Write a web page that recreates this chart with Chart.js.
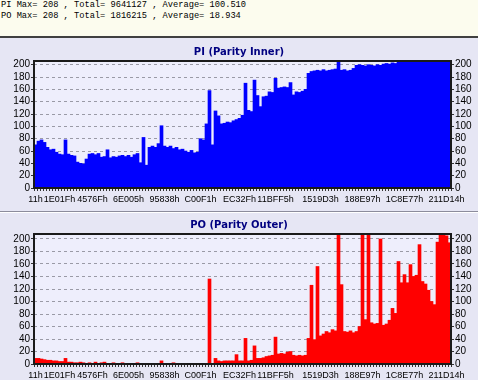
<!DOCTYPE html>
<html>
<head>
<meta charset="utf-8">
<script src="https://cdn.jsdelivr.net/npm/chart.js@4.4.0/dist/chart.umd.min.js"></script>
<style>
  html, body { margin: 0; padding: 0; }
  body { width: 478px; height: 380px; background: #e6e6f4; position: relative; overflow: hidden; }
  #stats {
    position: absolute; left: 0; top: 0; width: 478px; height: 36px;
    box-sizing: content-box; padding: 0;
    background: #fcfcee; border-bottom: 2px solid #404040;
    font-family: 'Liberation Mono', monospace; font-size: 8.7px; line-height: 10.5px;
    color: #000; white-space: nowrap;
  }
  #stats div { padding-left: 1px; height: 10.5px; }
  .panel { position: absolute; left: 0; width: 478px; }
  #panel-pi { top: 38px; height: 173px; }
  #sep { position: absolute; left: 0; top: 211px; width: 478px; height: 0;
         border-top: 1px solid #8c8c9c; border-bottom: 1px solid #ffffff; }
  #panel-po { top: 213px; height: 167px; }
  canvas { display: block; }
</style>
</head>
<body>
<div id="stats"><div>PI Max= 208 , Total= 9641127 , Average= 100.510</div><div>PO Max= 208 , Total= 1816215 , Average= 18.934</div></div>
<div class="panel" id="panel-pi"><canvas id="piChart" width="478" height="173"></canvas></div>
<div id="sep"></div>
<div class="panel" id="panel-po"><canvas id="poChart" width="478" height="167"></canvas></div>

<script>
// address labels shown under the x axis, and the bin each one sits on
const xTickLabels = ['11h', '1E01Fh', '4576Fh', '6E005h', '95838h', 'C00F1h',
                     'EC32Fh', '11BFF5h', '1519D3h', '188E97h', '1C8E77h', '211D14h'];
const xTickBins = [0, 8, 19, 31, 43, 55, 68, 80, 95, 109, 123, 137];

const yTicks = [0, 20, 40, 60, 80, 100, 120, 140, 160, 180, 200];

// PI (Parity Inner) per bin
const piValues = [
  70, 76, 78, 74, 66, 62, 63, 58, 55, 54,
  78, 55, 53, 52, 42, 40, 39, 47, 55, 56,
  54, 56, 50, 51, 62, 49, 51, 50, 52, 53,
  51, 53, 50, 54, 56, 41, 82, 37, 66, 68,
  66, 72, 101, 68, 66, 68, 64, 66, 62, 63,
  60, 58, 61, 57, 58, 80, 78, 104, 158, 70,
  125, 117, 104, 105, 107, 106, 109, 111, 113, 118,
  170, 126, 124, 175, 150, 132, 148, 149, 156, 155,
  178, 162, 163, 164, 163, 171, 151, 156, 155, 157,
  160, 186, 189, 190, 191, 190, 192, 190, 191, 192,
  193, 205, 191, 192, 190, 191, 194, 199, 200, 199,
  198, 200, 199, 198, 200, 199, 201, 202, 201, 203,
  202, 205, 206, 207, 208, 208, 208, 208, 208, 208,
  208, 208, 208, 204, 208, 208, 208, 208, 208
];

// PO (Parity Outer) per bin
const poValues = [
  9, 9, 8, 7, 6, 6, 5, 5, 4, 4,
  9, 3, 3, 2, 2, 3, 2, 1, 2, 1,
  3, 1, 2, 3, 1, 1, 2, 1, 1, 2,
  1, 1, 1, 1, 2, 1, 1, 1, 1, 1,
  1, 1, 5, 1, 1, 1, 2, 1, 1, 1,
  1, 1, 1, 1, 1, 1, 1, 1, 136, 1,
  9, 5, 4, 5, 5, 5, 5, 15, 5, 5,
  41, 5, 6, 29, 9, 9, 10, 12, 13, 14,
  43, 16, 17, 16, 19, 20, 14, 13, 14, 13,
  14, 41, 126, 39, 156, 45, 48, 52, 50, 55,
  53, 207, 127, 52, 51, 53, 50, 52, 60, 206,
  71, 206, 66, 64, 65, 200, 62, 64, 70, 89,
  81, 164, 130, 143, 130, 159, 140, 142, 191, 132,
  128, 118, 100, 95, 195, 207, 206, 205, 194
];

const binLabels = piValues.map(function(v, i) {
    const k = xTickBins.indexOf(i);
    return k >= 0 ? xTickLabels[k] : '';
});

// plot background and the dark frame round it
const framePlugin = {
    id: 'frame',
    beforeDraw(chart) {
        const a = chart.chartArea;
        const ctx = chart.ctx;
        ctx.save();
        ctx.fillStyle = '#eeeefc';
        ctx.fillRect(a.left, a.top, a.right - a.left, a.bottom - a.top);
        ctx.restore();
    },
    afterDraw(chart) {
        const a = chart.chartArea;
        const ctx = chart.ctx;
        ctx.save();
        ctx.strokeStyle = '#1a1a1a';
        ctx.lineWidth = 2;
        ctx.strokeRect(a.left, a.top, a.right - a.left, a.bottom - a.top);
        ctx.restore();
    }
};

function makeChart(id, title, values, color, yMax, titleTop, titleBottom, xAxisHeight) {
    const tickFont = { family: 'Liberation Sans', size: 10 };
    const yAxis = function(position, width, grid) {
        return {
            type: 'linear',
            position: position,
            min: 0,
            max: yMax,
            afterBuildTicks: function(scale) {
                scale.ticks = yTicks.map(function(v) { return { value: v }; });
            },
            grid: Object.assign({ tickLength: 3, tickColor: '#333', tickBorderDash: [] }, grid),
            border: { display: false, dash: [3, 3] },
            ticks: { autoSkip: false, padding: 1, color: '#000', font: tickFont },
            afterFit: function(scale) { scale.width = width; }
        };
    };

    return new Chart(document.getElementById(id), {
        type: 'bar',
        data: {
            labels: binLabels,
            datasets: [{
                data: values,
                backgroundColor: color,
                borderWidth: 0,
                barPercentage: 1,
                categoryPercentage: 1
            }]
        },
        options: {
            responsive: false,
            animation: false,
            layout: { padding: 0 },
            plugins: {
                legend: { display: false },
                tooltip: { enabled: false },
                title: {
                    display: true,
                    text: title,
                    color: '#000080',
                    font: { family: 'DejaVu Sans', size: 10, weight: 'bold', lineHeight: 1.2 },
                    padding: { top: titleTop, bottom: titleBottom }
                }
            },
            scales: {
                x: {
                    offset: true,
                    grid: { drawOnChartArea: false, tickLength: 3, tickColor: '#333', offset: true },
                    border: { display: false },
                    ticks: {
                        autoSkip: false, maxRotation: 0, minRotation: 0, padding: 3,
                        color: '#000', font: { family: 'Liberation Sans', size: 9 }
                    },
                    afterFit: function(scale) { scale.height = xAxisHeight; }
                },
                y: yAxis('left', 34, { color: '#9a9aa6' }),
                y2: yAxis('right', 27, { drawOnChartArea: false })
            }
        },
        plugins: [framePlugin]
    });
}

makeChart('piChart', 'PI (Parity Inner)', piValues, '#0000ff', 206, 8, 3, 23);
makeChart('poChart', 'PO (Parity Outer)', poValues, '#ff0000', 208, 6, 3, 16);
</script>
</body>
</html>
